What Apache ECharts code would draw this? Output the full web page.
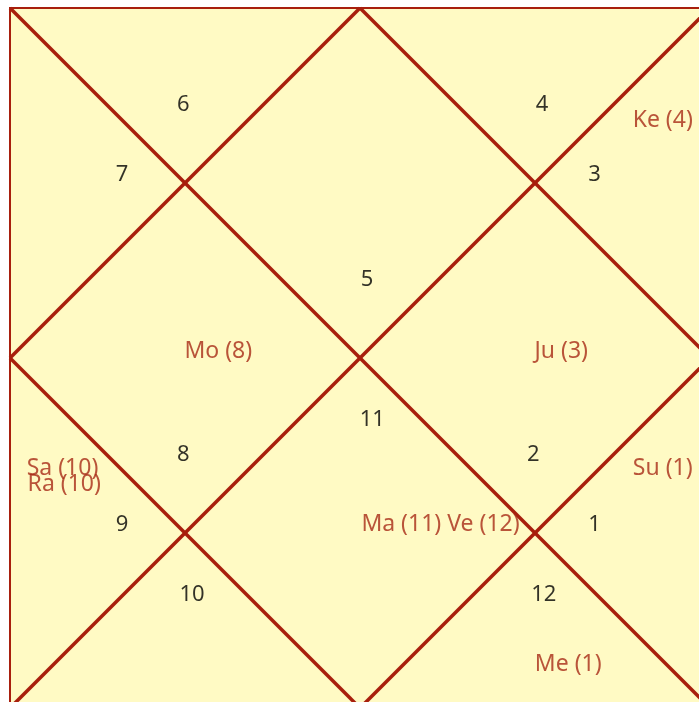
<!DOCTYPE html>
<html>
<head>
<meta charset="utf-8">
<script src="https://cdn.jsdelivr.net/npm/echarts@6/dist/echarts.min.js"></script>
<style>
  html, body { margin: 0; padding: 0; background: #fff; }
  #chart { width: 699px; height: 702px; }
</style>
</head>
<body>
<div id="chart"></div>
<script>
// house numbers (chart units: square is 0..4 on both axes, y runs downward)
const houseNums = ["6", "4", "7", "3", "5", "11", "8", "2", "9", "1", "10", "12"];
const houseX = [0.99, 3.04, 0.64, 3.34, 2.04, 2.07, 0.99, 2.99, 0.64, 3.34, 1.04, 3.05];
const houseY = [0.54, 0.54, 0.94, 0.94, 1.54, 2.34, 2.54, 2.54, 2.94, 2.94, 3.34, 3.34];

// planets with the house they sit in
const planetText = ["Ke (4)", "Mo (8)", "Ju (3)", "Sa (10)", "Ra (10)", "Su (1)", "Ma (11) Ve (12)", "Me (1)"];
const planetX = [3.73, 1.19, 3.15, 0.30, 0.31, 3.73, 2.46, 3.19];
const planetY = [0.63, 1.95, 1.95, 2.62, 2.71, 2.62, 2.94, 3.74];

// the diagonals and the inner diamond
const chartLines = [
  [[0, 0], [4, 4]],
  [[4, 0], [0, 4]],
  [[2, 0], [4, 2]],
  [[4, 2], [2, 4]],
  [[2, 4], [0, 2]],
  [[0, 2], [2, 0]]
];

const red = "#a81f0d";
const chart = echarts.init(document.getElementById("chart"));

chart.setOption({
  animation: false,
  grid: {
    show: true,
    left: 10, top: 8, width: 700, height: 700,
    outerBoundsMode: "none",
    containLabel: false,
    backgroundColor: "#fffac4",
    borderColor: red,
    borderWidth: 2
  },
  xAxis: { type: "value", min: 0, max: 4, show: false },
  yAxis: { type: "value", min: 0, max: 4, inverse: true, show: false },
  series: [
    {
      type: "lines",
      coordinateSystem: "cartesian2d",
      silent: true,
      lineStyle: { color: red, width: 3.5, opacity: 1 },
      data: chartLines.map((c) => ({ coords: c }))
    },
    {
      type: "scatter",
      symbolSize: 0,
      silent: true,
      label: {
        show: true,
        position: "inside",
        offset: [0, 2],
        formatter: (p) => houseNums[p.dataIndex],
        color: "#000",
        fontSize: 22,
        fontFamily: "Noto Sans"
      },
      data: houseX.map((x, i) => [x, houseY[i]])
    },
    {
      type: "scatter",
      symbolSize: 0,
      silent: true,
      label: {
        show: true,
        position: "inside",
        offset: [0, 2],
        formatter: (p) => planetText[p.dataIndex],
        color: "#a82a16",
        fontSize: 23,
        fontFamily: "Noto Sans"
      },
      data: planetX.map((x, i) => [x, planetY[i]])
    }
  ]
});
</script>
</body>
</html>
